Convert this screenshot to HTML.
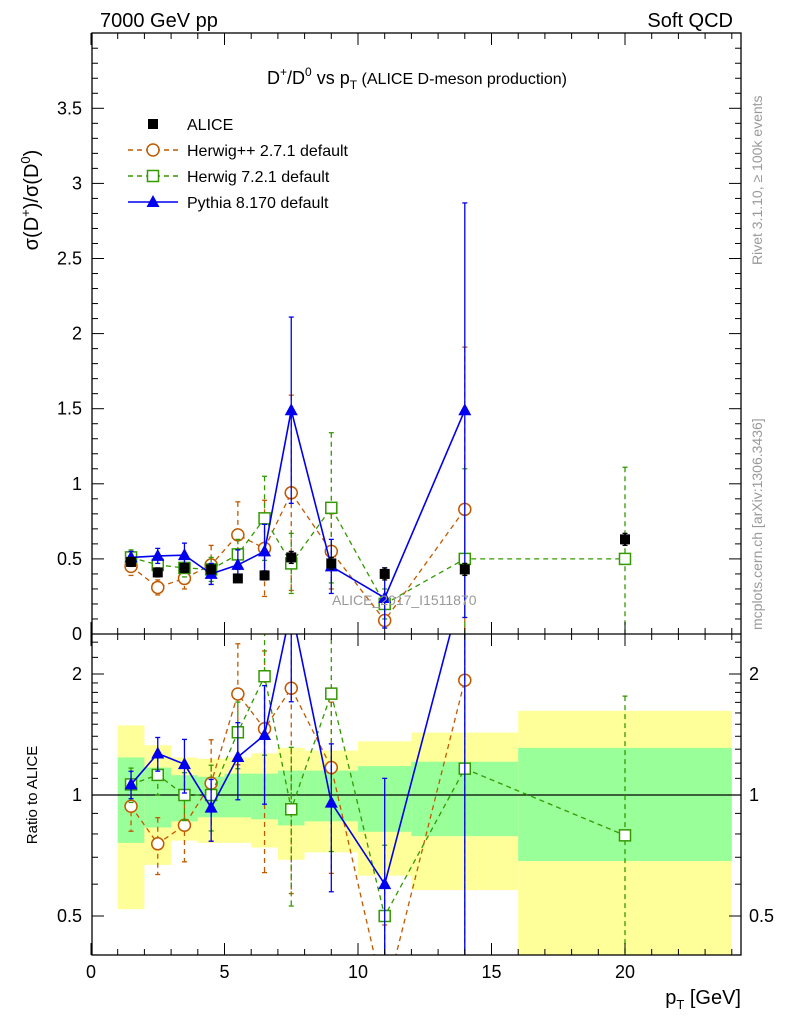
<!DOCTYPE html>
<html><head><meta charset="utf-8"><style>
html,body{margin:0;background:#fff;overflow:hidden;width:786px;height:1024px;}
svg{display:block;font-family:"Liberation Sans",sans-serif;}
</style></head><body>
<svg id="c" width="786" height="1024" xmlns="http://www.w3.org/2000/svg">
<defs>
<clipPath id="cm"><rect x="92" y="33" width="649" height="601"/></clipPath>
<clipPath id="cr"><rect x="92" y="634" width="649" height="321"/></clipPath>
</defs>
<g id="bands" clip-path="url(#cr)"></g>
<g id="mainMarks" clip-path="url(#cm)"></g>
<g id="ratioMarks" clip-path="url(#cr)"></g>
<g id="axes"></g>
<text x="100" y="27" font-size="20">7000 GeV pp</text>
<text x="733" y="27" font-size="20" text-anchor="end">Soft QCD</text>
<text x="417" y="84" font-size="18" text-anchor="middle">D<tspan font-size="12" dy="-8">+</tspan><tspan dy="8">/D</tspan><tspan font-size="12" dy="-8">0</tspan><tspan dy="8"> vs p</tspan><tspan font-size="12" dy="5">T</tspan><tspan dy="-5" font-size="16"> (ALICE D-meson production)</tspan></text>
<text transform="translate(38,200) rotate(-90)" font-size="20" text-anchor="middle">σ(D<tspan font-size="13" dy="-8">+</tspan><tspan dy="8">)/σ(D</tspan><tspan font-size="13" dy="-8">0</tspan><tspan dy="8">)</tspan></text>
<text transform="translate(37,795) rotate(-90)" font-size="15" text-anchor="middle">Ratio to ALICE</text>
<text x="741" y="1004" font-size="20" text-anchor="end">p<tspan font-size="13" dy="5">T</tspan><tspan dy="-5"> [GeV]</tspan></text>
<text transform="translate(762,265) rotate(-90)" font-size="14" fill="#999">Rivet 3.1.10, ≥ 100k events</text>
<text transform="translate(762,630) rotate(-90)" font-size="14" fill="#999">mcplots.cern.ch [arXiv:1306.3436]</text>
<text x="332" y="605" font-size="14" fill="#999">ALICE_2017_I1511870</text>
<g id="legend"></g>
</svg>
<script>
const xCenters=[1.5,2.5,3.5,4.5,5.5,6.5,7.5,9,11,14,20];
const binEdges=[1,2,3,4,5,6,7,8,10,12,16,24];
const aliceVals=[0.48,0.41,0.44,0.43,0.37,0.39,0.51,0.47,0.40,0.43,0.63];
const aliceErrs=[0.03,0.03,0.03,0.03,0.02,0.03,0.04,0.04,0.04,0.04,0.04];
const herwigppVals=[0.45,0.31,0.37,0.46,0.66,0.57,0.94,0.55,0.09,0.83,null];
const herwigppErrs=[0.06,0.05,0.07,0.13,0.22,0.32,0.65,0.25,0.1,1.08,null];
const herwig7Vals=[0.51,0.46,0.44,0.43,0.53,0.77,0.47,0.84,0.2,0.5,0.5];
const herwig7Errs=[0.05,0.05,0.06,0.08,0.1,0.28,0.2,0.5,0.1,0.6,0.61];
const pythiaVals=[0.51,0.52,0.525,0.40,0.46,0.55,1.49,0.45,0.24,1.49,null];
const pythiaErrs=[0.04,0.05,0.08,0.07,0.1,0.18,0.62,0.18,0.2,1.38,null];
const yellowHi=[1.49,1.33,1.24,1.23,1.24,1.27,1.31,1.29,1.36,1.43,1.62];
const yellowLo=[0.52,0.67,0.77,0.76,0.76,0.74,0.69,0.72,0.63,0.58,0.3];
const greenHi=[1.24,1.17,1.12,1.11,1.13,1.13,1.15,1.15,1.18,1.21,1.31];
const greenLo=[0.76,0.83,0.86,0.88,0.88,0.87,0.84,0.86,0.81,0.79,0.685];
const xTicks=[0,5,10,15,20];
const yTicks=[0.5,1,1.5,2,2.5,3,3.5];
const rTicks=[0.5,1,2];

const NS="http://www.w3.org/2000/svg";
const X=v=>91+26.7*v;
const Y=v=>634-150.2*v;
const R=v=>795-121*Math.log2(v);
function mk(tag,attrs,parent){const e=document.createElementNS(NS,tag);for(const k in attrs)e.setAttribute(k,attrs[k]);parent.appendChild(e);return e;}
const bands=document.getElementById('bands'),mm=document.getElementById('mainMarks'),rm=document.getElementById('ratioMarks'),ax=document.getElementById('axes'),lg=document.getElementById('legend');

for(let i=0;i<xCenters.length;i++){
  const x0=X(binEdges[i]),x1=X(binEdges[i+1]);
  let e=mk('rect',{x:x0,y:R(yellowHi[i]),width:x1-x0,height:Math.min(R(yellowLo[i]),960)-R(yellowHi[i]),fill:'#ffff99'},bands);
  
  
  e=mk('rect',{x:x0,y:R(greenHi[i]),width:x1-x0,height:R(greenLo[i])-R(greenHi[i]),fill:'#99ff99'},bands);
  
  
}
let ln=mk('line',{x1:92,x2:741,y1:R(1),y2:R(1),stroke:'#000','stroke-width':1.3},bands);



function marker(g,type,x,y,col){
  let e;
  if(type==='sq') e=mk('rect',{x:x-5,y:y-5,width:10,height:10,fill:'#000'},g);
  else if(type==='osq') e=mk('rect',{x:x-5.5,y:y-5.5,width:11,height:11,fill:'#fff',stroke:col,'stroke-width':1.5},g);
  else if(type==='circ') e=mk('circle',{cx:x,cy:y,r:6,fill:'#fff',stroke:col,'stroke-width':1.5},g);
  else e=mk('path',{d:`M${x},${y-7}L${x+6.5},${y+5}L${x-6.5},${y+5}Z`,fill:col},g);
  return e;
}
function series(g,vals,errs,col,dash,type,name,fy,ratio){
  const grp=mk('g',{},g);
  
  
  const pts=[];
  for(let i=0;i<xCenters.length;i++){
    if(vals[i]==null)continue;
    let v=vals[i],er=errs[i];
    if(ratio){v=vals[i]/aliceVals[i];er=errs[i]/aliceVals[i];}
    const x=X(xCenters[i]);
    pts.push([x,Math.min(fy(v),1000)]);
    const lo=v-er>0.01?Math.min(fy(v-er),1000):1000, hi=Math.max(fy(v+er),0);
    mk('line',{x1:x,x2:x,y1:hi,y2:lo,stroke:col,'stroke-width':type==='sq'?2:1.3,'stroke-dasharray':dash},grp);
    mk('line',{x1:x-2.5,x2:x+2.5,y1:hi,y2:hi,stroke:col,'stroke-width':1.3},grp);
    mk('line',{x1:x-2.5,x2:x+2.5,y1:lo,y2:lo,stroke:col,'stroke-width':1.3},grp);
  }
  if(type!=='sq') mk('polyline',{points:pts.map(p=>p.join(',')).join(' '),fill:'none',stroke:col,'stroke-width':type==='tri'?1.6:1.3,'stroke-dasharray':dash},grp);
  pts.forEach(p=>marker(grp,type,p[0],p[1],col));
}
const HC='#c05a00',GC='#339900',PC='#0000ee';
series(mm,herwigppVals,herwigppErrs,HC,'5,4','circ','herwigpp-series',Y,false);
series(mm,herwig7Vals,herwig7Errs,GC,'5,4','osq','herwig7-series',Y,false);
series(mm,pythiaVals,pythiaErrs,PC,'','tri','pythia-series',Y,false);
series(mm,aliceVals,aliceErrs,'#000','','sq','alice-data',Y,false);
series(rm,herwigppVals,herwigppErrs,HC,'5,4','circ','herwigpp-ratio',R,true);
series(rm,herwig7Vals,herwig7Errs,GC,'5,4','osq','herwig7-ratio',R,true);
series(rm,pythiaVals,pythiaErrs,PC,'','tri','pythia-ratio',R,true);

mk('rect',{x:92,y:33,width:649,height:922,fill:'none',stroke:'#000','stroke-width':1.3},ax);
mk('line',{x1:92,x2:741,y1:634,y2:634,stroke:'#000','stroke-width':1.3},ax);
for(let v=0;v<=24;v++){
  const x=X(v),L=(v%5===0)?12:6;
  [[634,-1],[955,-1],[33,1],[634,1]].forEach(([y,d])=>mk('line',{x1:x,x2:x,y1:y,y2:y+d*L,stroke:'#000'},ax));
}
xTicks.forEach(v=>{const t=mk('text',{x:X(v),y:978,'font-size':18,'text-anchor':'middle'},ax);t.textContent=v;
  
  });
for(let k=1;k<=39;k++){const v=k/10,y=Y(v),L=(k%5===0)?12:6;
  mk('line',{x1:92,x2:92+L,y1:y,y2:y,stroke:'#000'},ax);mk('line',{x1:741,x2:741-L,y1:y,y2:y,stroke:'#000'},ax);}
mk('text',{x:82,y:640,'font-size':18,'text-anchor':'end'},ax).textContent='0';
yTicks.forEach(v=>{const t=mk('text',{x:82,y:Y(v)+6,'font-size':18,'text-anchor':'end'},ax);t.textContent=v;
  
  });
[0.4,0.5,0.6,0.7,0.8,0.9,1,1.1,1.2,1.3,1.4,1.5,1.6,1.7,1.8,1.9,2,2.2,2.4].forEach(v=>{
  const y=R(v),L=rTicks.includes(v)?12:6;
  mk('line',{x1:92,x2:92+L,y1:y,y2:y,stroke:'#000'},ax);mk('line',{x1:741,x2:741-L,y1:y,y2:y,stroke:'#000'},ax);});
rTicks.forEach(v=>{
  let t=mk('text',{x:82,y:R(v)+6,'font-size':18,'text-anchor':'end'},ax);t.textContent=v;
  
  
  t=mk('text',{x:749,y:R(v)+6,'font-size':18},ax);t.textContent=v;
  
  });
const legItems=[['sq','#000','','ALICE'],['circ',HC,'5,4','Herwig++ 2.7.1 default'],['osq',GC,'5,4','Herwig 7.2.1 default'],['tri',PC,'','Pythia 8.170 default']];
legItems.forEach((it,i)=>{
  const y=124+26*i;
  const g=mk('g',{},lg);
  
  
  if(it[0]!=='sq') mk('line',{x1:128,x2:178,y1:y,y2:y,stroke:it[1],'stroke-width':1.4,'stroke-dasharray':it[2]},g);
  marker(g,it[0],153,y,it[1]);
  const t=mk('text',{x:187,y:y+6,'font-size':16},g);t.textContent=it[3];
});
</script>
</body></html>
